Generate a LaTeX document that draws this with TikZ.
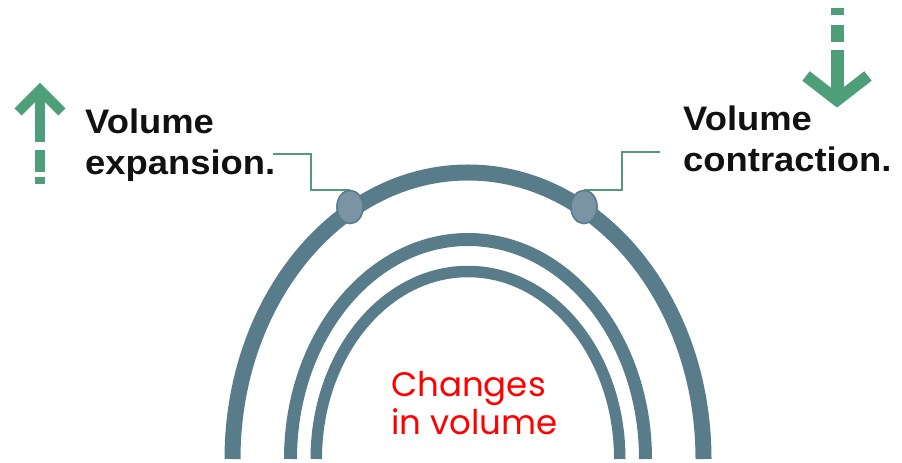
\documentclass[tikz,border=0pt]{standalone}
\usepackage{fontspec}
\setmainfont{Liberation Sans}
\newfontfamily\lblfont[FakeStretch=1.07]{Liberation Sans Bold}
\newfontfamily\popfont{Poppins}
\definecolor{arcc}{RGB}{88,124,138}
\definecolor{dotc}{RGB}{122,148,166}
\definecolor{callc}{RGB}{79,155,124}
\definecolor{arrc}{RGB}{79,158,122}
\definecolor{txtc}{RGB}{17,17,17}
\usetikzlibrary{shapes.geometric}
\tikzset{
  arcline/.style={draw=arcc},
  dotnode/.style={ellipse, draw=arcc, line width=1.5pt, fill=dotc, minimum width=26pt, minimum height=33pt, inner sep=0pt},
  callout/.style={draw=callc, line width=2.2pt},
  arrw/.style={draw=arrc, line cap=butt, line join=miter},
  lbl/.style={anchor=base west, align=left, text=txtc, font=\lblfont\fontsize{34}{41}\selectfont, inner sep=0pt},
  redlbl/.style={anchor=base west, align=left, text=red, font=\popfont\fontsize{34}{38}\selectfont, inner sep=0pt}
}
\begin{document}
\begin{tikzpicture}[x=1pt,y=1pt]
\useasboundingbox (0,0) rectangle (902,463);
% arcs
\draw[arcline, line width=16pt] (232.5,4) arc[start angle=180, end angle=0, x radius=235.5, y radius=286.5];
\draw[arcline, line width=13pt] (290.5,4) arc[start angle=180, end angle=0, x radius=177.5, y radius=219.5];
\draw[arcline, line width=11.5pt] (316.25,4) arc[start angle=180, end angle=0, x radius=151.75, y radius=187.5];
% dots
\node[dotnode] (dotL) at (350,256) {};
\node[dotnode] (dotR) at (584,256) {};
% callouts
\coordinate (cL) at (273,309);
\coordinate (cR) at (660,311);
\draw[callout] (cL) -- (311,309) |- (dotL.north);
\draw[callout] (cR) -- (622,311) |- (dotR.north);
\node[dotnode] at (dotL) {};
\node[dotnode] at (dotR) {};
% labels
\node[lbl] (expL) at (85,288) {Volume\\expansion.};
\node[lbl] (conL) at (683,291) {Volume\\contraction.};
\node[redlbl] (chg) at (391,28) {Changes\\in volume};
% up arrow
\draw[arrw, line width=10pt] (18,351) -- (40,373) -- (62,351);
\draw[arrw, line width=10pt] (40,375) -- (40,321);
\draw[arrw, line width=10pt] (40,313) -- (40,291);
\draw[arrw, line width=10pt] (40,286) -- (40,279);
% down arrow
\draw[arrw, line width=12pt] (806,387) -- (837,363) -- (868,387);
\draw[arrw, line width=13pt] (837,361) -- (837,413);
\draw[arrw, line width=13pt] (837,421) -- (837,438);
\draw[arrw, line width=13pt] (837,448) -- (837,455);
\end{tikzpicture}
\end{document}
